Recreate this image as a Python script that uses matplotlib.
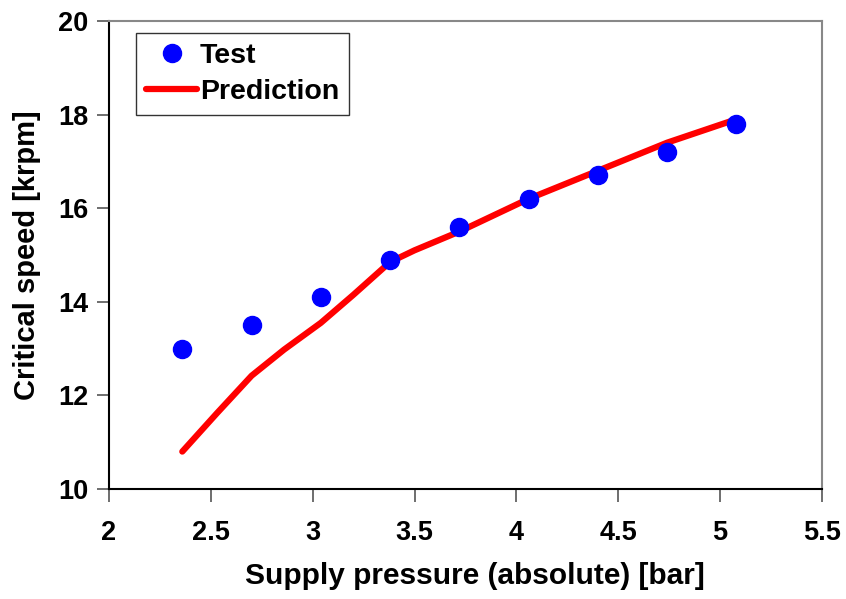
import numpy as np
import matplotlib.pyplot as plt

plt.rcParams['font.family'] = ['Liberation Sans', 'DejaVu Sans']
plt.rcParams['font.weight'] = 'bold'

# supply pressure [bar], critical speed [krpm]
p_test = [2.36, 2.70, 3.04, 3.38, 3.72, 4.06, 4.40, 4.74, 5.08]
n_test = [13.0, 13.5, 14.1, 14.9, 15.6, 16.2, 16.7, 17.2, 17.8]

p_pred = [2.36, 2.53, 2.70, 2.86, 3.04, 3.20, 3.38, 3.50, 3.72, 4.06, 4.40, 4.74, 5.08]
n_pred = [10.8, 11.62, 12.42, 12.98, 13.55, 14.15, 14.85, 15.1, 15.5, 16.2, 16.8, 17.4, 17.9]

fig = plt.figure(figsize=(8.46, 5.99), dpi=100)
ax = fig.add_axes([0.1288, 0.1836, 0.8428, 0.7814])

ax.plot(p_test, n_test, 'o', color='#0000ff', markersize=13, label='Test', zorder=3)
ax.plot(p_pred, n_pred, '-', color='#ff0000', lw=4.5, solid_capstyle='round',
        solid_joinstyle='round', label='Prediction', zorder=2)

ax.set_xlim(2, 5.5)
ax.set_ylim(10, 20)
ax.set_xticks(np.arange(2, 5.51, 0.5))
ax.set_xticklabels(['2', '2.5', '3', '3.5', '4', '4.5', '5', '5.5'])
ax.set_yticks(np.arange(10, 20.1, 2))
ax.tick_params(direction='out', length=9, width=1.2, labelsize=19.5, color='#555555')
ax.tick_params(axis='x', pad=13)
ax.tick_params(axis='y', pad=6)

for s in ['left', 'bottom']:
    ax.spines[s].set_color('black')
    ax.spines[s].set_linewidth(1.5)
for s in ['top', 'right']:
    ax.spines[s].set_color('#888888')
    ax.spines[s].set_linewidth(1.5)

ax.set_xlabel('Supply pressure (absolute) [bar]', fontsize=21.5, fontweight='bold')
ax.set_ylabel('Critical speed [krpm]', fontsize=21, fontweight='bold')
ax.xaxis.set_label_coords(0.513, -0.155)
ax.yaxis.set_label_coords(-0.095, 0.5)

leg = ax.legend(loc='upper left', bbox_to_anchor=(0.038, 0.974), fontsize=20.5, frameon=True,
                fancybox=False, edgecolor='black', handlelength=1.8, borderpad=0.35,
                labelspacing=0.35, handletextpad=0.1, borderaxespad=0)
leg.get_frame().set_linewidth(1.0)

fig.savefig('out.png', dpi=100)
